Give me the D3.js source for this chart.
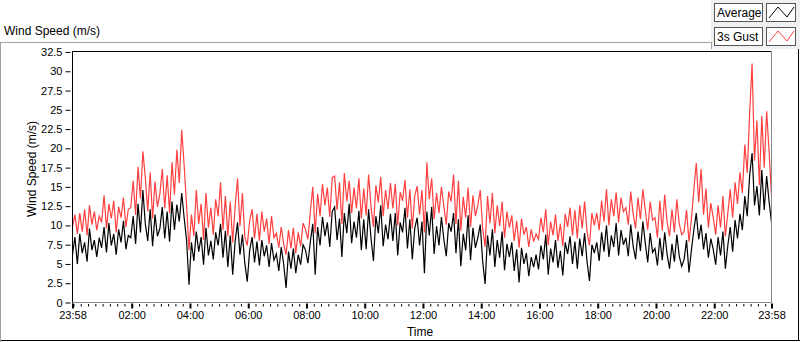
<!DOCTYPE html>
<html>
<head>
<meta charset="utf-8">
<script src="https://cdn.jsdelivr.net/npm/d3@7"></script>
<style>
  body { margin: 0; background: #fff; }
  text { font-family: "Liberation Sans", Arial, sans-serif; fill: #000; }
</style>
</head>
<body>
<div id="chart"></div>
<script>
// samples every 5 minutes, starting 23:58 the day before
var sampleMinutes = 5;
var xTickLabels = ["23:58", "02:00", "04:00", "06:00", "08:00", "10:00", "12:00",
                   "14:00", "16:00", "18:00", "20:00", "22:00", "23:58"];
var yTicks = [0, 2.5, 5, 7.5, 10, 12.5, 15, 17.5, 20, 22.5, 25, 27.5, 30, 32.5];
var seriesNames = ["Average", "3s Gust"];

var average = [
  6.2, 8.5, 5.0, 8.9, 6.4, 7.8, 5.3, 9.6, 6.8, 8.1, 5.9, 8.4,      // 23:58
  7.1, 9.8, 6.5, 10.3, 7.4, 8.9, 6.2, 9.5, 7.8, 10.6, 6.9, 8.7,    // 00:58
  8.4, 11.2, 7.6, 12.8, 9.1, 14.6, 10.2, 8.0, 12.1, 7.3, 11.4, 8.6, // 01:58
  9.6, 12.4, 8.3, 11.8, 7.9, 13.1, 9.4, 12.7, 10.5, 14.2, 11.0, 8.1, // 02:58
  2.3, 7.8, 5.4, 9.2, 6.6, 8.5, 4.9, 9.7, 6.1, 8.0, 5.6, 9.1,      // 03:58
  7.4, 10.2, 5.8, 9.3, 4.6, 8.7, 3.6, 7.9, 10.4, 6.2, 8.8, 5.1,    // 04:58
  2.7, 6.8, 8.5, 5.2, 7.9, 4.8, 8.1, 6.0, 7.4, 4.6, 7.7, 5.5,      // 05:58
  6.3, 4.1, 7.2, 5.0, 1.9, 6.6, 4.4, 7.0, 3.8, 6.2, 4.9, 7.5,      // 06:58
  6.8, 5.1, 7.9, 10.2, 3.6, 9.8, 7.4, 11.1, 8.6, 10.4, 7.2, 11.8,  // 07:58
  12.4, 8.1, 10.9, 5.9, 11.6, 9.0, 12.8, 7.7, 10.5, 8.4, 11.9, 6.8, // 08:58
  10.8, 6.9, 12.1, 8.3, 5.4, 11.2, 9.0, 12.6, 7.3, 10.1, 8.2, 11.5, // 09:58
  8.0, 11.6, 6.1, 10.4, 9.1, 12.3, 7.0, 10.8, 5.6, 9.6, 11.0, 7.4,  // 10:58
  10.5, 3.8, 11.8, 8.7, 12.4, 6.3, 9.9, 7.4, 11.1, 8.2, 6.0, 10.3,  // 11:58
  9.2, 11.6, 6.4, 10.8, 4.7, 8.9, 6.8, 11.3, 5.5, 9.7, 7.1, 8.4,    // 12:58
  10.1, 5.3, 2.4, 8.7, 6.1, 9.5, 4.6, 8.1, 5.8, 9.2, 4.2, 7.6,      // 13:58
  5.9, 7.8, 4.1, 6.9, 2.6, 7.1, 5.0, 6.4, 3.4, 5.9, 4.6, 6.2,       // 14:58
  4.3, 7.4, 5.6, 8.8, 3.6, 7.0, 5.2, 8.1, 4.5, 6.7, 3.5, 7.8,       // 15:58
  6.3, 8.6, 5.0, 7.9, 4.4, 8.3, 6.0, 9.0, 5.3, 2.8, 7.5, 6.4,       // 16:58
  7.8, 5.4, 9.1, 6.6, 10.0, 5.9, 8.7, 7.2, 10.3, 6.1, 9.4, 7.5,     // 17:58
  8.4, 6.0, 10.1, 7.3, 5.6, 9.2, 6.7, 10.5, 7.7, 5.2, 9.0, 6.5,     // 18:58
  7.0, 4.8, 8.4, 5.5, 9.1, 6.2, 4.4, 7.6, 5.3, 8.8, 6.0, 4.7,       // 19:58
  5.6, 8.1, 3.9, 6.8, 9.4, 11.6, 8.2, 10.1, 6.9, 9.0, 5.8, 8.3,     // 20:58
  6.9, 4.9, 8.5, 6.1, 9.2, 4.4, 7.4, 9.8, 6.6, 10.7, 8.3, 11.5,     // 21:58
  9.4, 13.8, 11.2, 16.5, 19.4, 12.6, 15.1, 11.3, 17.2, 12.0, 16.4, 13.1, // 22:58
  10.4                                                             // 23:58
];

var gust = [
  9.8, 11.4, 8.9, 11.6, 9.2, 12.1, 8.7, 12.6, 10.1, 11.8, 9.4, 11.2,
  10.4, 13.9, 9.6, 12.8, 10.9, 13.2, 9.1, 12.4, 11.0, 13.6, 9.8, 12.1,
  12.3, 15.8, 11.4, 17.6, 13.5, 19.6, 16.2, 11.8, 16.9, 10.9, 15.7, 12.4,
  14.1, 17.3, 12.2, 16.5, 11.6, 18.2, 14.0, 19.8, 15.5, 22.4, 17.8, 12.6,
  6.8, 11.4, 8.6, 14.6, 10.2, 12.8, 8.1, 14.2, 9.7, 12.3, 8.8, 13.4,
  11.2, 15.6, 9.4, 13.8, 8.6, 13.1, 7.8, 12.4, 16.1, 9.9, 14.2, 8.5,
  7.4, 10.6, 12.1, 8.3, 11.5, 8.0, 11.8, 9.2, 10.9, 7.6, 11.2, 8.4,
  9.0, 7.1, 9.8, 7.6, 6.2, 9.4, 7.0, 9.7, 6.4, 9.1, 7.3, 10.3,
  9.5, 8.2, 11.8, 15.0, 9.0, 14.1, 11.2, 15.4, 12.6, 14.9, 11.1, 16.2,
  16.4, 12.0, 15.6, 10.2, 16.8, 13.1, 15.8, 11.6, 14.9, 12.2, 16.1, 10.9,
  14.8, 11.3, 16.6, 12.4, 9.8, 15.2, 13.0, 16.3, 11.2, 14.6, 12.1, 15.5,
  12.2, 15.4, 10.0, 14.3, 13.2, 15.9, 11.0, 14.7, 9.6, 13.8, 15.1, 11.4,
  14.6, 9.1, 18.2, 13.4, 16.1, 10.8, 14.2, 11.6, 15.0, 12.5, 10.1, 14.4,
  13.1, 16.6, 10.2, 15.8, 9.3, 13.7, 11.0, 14.9, 9.8, 13.9, 11.2, 12.6,
  14.6, 9.6, 7.2, 13.8, 10.3, 14.2, 9.0, 12.6, 9.9, 13.1, 8.4, 11.8,
  9.7, 11.3, 8.0, 10.6, 7.1, 10.9, 8.8, 9.8, 7.2, 9.5, 7.9, 8.9,
  8.2, 11.0, 9.1, 12.1, 7.4, 10.5, 8.7, 11.4, 8.0, 10.2, 7.3, 11.5,
  9.8, 12.3, 8.7, 12.0, 8.3, 12.6, 9.6, 13.1, 9.2, 7.4, 11.6, 10.0,
  11.6, 9.4, 13.2, 10.5, 14.7, 10.0, 13.4, 11.2, 14.3, 10.4, 13.6, 11.8,
  12.3, 10.1, 14.4, 11.5, 9.6, 13.6, 10.8, 14.7, 12.0, 9.4, 13.1, 10.7,
  11.0, 8.4, 13.2, 9.3, 14.0, 10.4, 8.6, 12.1, 9.1, 13.4, 10.2, 8.8,
  9.2, 12.0, 7.9, 10.8, 14.6, 18.1, 13.0, 17.3, 11.4, 14.8, 9.7, 12.9,
  11.0, 8.8, 12.6, 9.7, 13.8, 8.6, 11.6, 14.7, 11.0, 15.6, 12.8, 16.9,
  14.2, 20.5, 16.8, 24.6, 31.0, 18.4, 23.6, 15.2, 24.2, 17.5, 24.8, 19.6,
  13.8
];

var width = 800, height = 342;
var plotLeft = 72.5, plotRight = 771.5, plotTop = 51.5, plotBottom = 302.5;

var start = new Date(2024, 0, 1, 23, 58);
var end = new Date(start.getTime() + 24 * 60 * 60000);
var majorTicks = xTickLabels.map(function (d, i) {
    if (i === 0) return start;
    if (i === xTickLabels.length - 1) return end;
    var p = d.split(":");
    return new Date(2024, 0, 2, +p[0], +p[1]);
});

var svg = d3.select("#chart").append("svg")
    .attr("width", width)
    .attr("height", height);

// outer frame (sunken look)
svg.append("rect").attr("x", 0).attr("y", 42).attr("width", 800).attr("height", 300).attr("fill", "#fff");
svg.append("line").attr("x1", 0).attr("x2", 711).attr("y1", 42.5).attr("y2", 42.5).attr("stroke", "#a0a0a0");
svg.append("line").attr("x1", 0.5).attr("x2", 0.5).attr("y1", 42).attr("y2", 342).attr("stroke", "#a0a0a0");
svg.append("line").attr("x1", 1).attr("x2", 800).attr("y1", 340.5).attr("y2", 340.5).attr("stroke", "#000");
svg.append("line").attr("x1", 798.5).attr("x2", 798.5).attr("y1", 49).attr("y2", 341).attr("stroke", "#000");

// title
svg.append("text")
    .attr("x", 4).attr("y", 35)
    .style("font-size", "12px")
    .text("Wind Speed (m/s)");

var x = d3.scaleTime().domain([start, end]).range([plotLeft, plotRight]);
var y = d3.scaleLinear().domain([0, 32.5]).range([plotBottom, plotTop + 0.5]);

// plot area
svg.append("rect")
    .attr("x", plotLeft).attr("y", plotTop)
    .attr("width", plotRight - plotLeft).attr("height", plotBottom - plotTop)
    .attr("fill", "#fff");

svg.append("clipPath").attr("id", "clip")
    .append("rect")
    .attr("x", plotLeft).attr("y", plotTop)
    .attr("width", plotRight - plotLeft).attr("height", plotBottom - plotTop);

var line = d3.line()
    .x(function (d, i) { return x(new Date(start.getTime() + i * sampleMinutes * 60000)); })
    .y(function (d) { return y(d); });

var plot = svg.append("g").attr("clip-path", "url(#clip)");
plot.append("path").datum(gust)
    .attr("d", line).attr("fill", "none")
    .attr("stroke", "#ff4040").attr("stroke-width", 1.2);
plot.append("path").datum(average)
    .attr("d", line).attr("fill", "none")
    .attr("stroke", "#000").attr("stroke-width", 1.2);

// plot border: dark top/left, grey right/bottom
svg.append("line").attr("x1", plotLeft).attr("x2", plotRight).attr("y1", plotTop).attr("y2", plotTop).attr("stroke", "#000");
svg.append("line").attr("x1", plotRight).attr("x2", plotRight).attr("y1", plotTop).attr("y2", plotBottom).attr("stroke", "#888");

// y axis
var yAxis = svg.append("g")
    .attr("transform", "translate(" + plotLeft + ",0)")
    .call(d3.axisLeft(y).tickValues(yTicks).tickSize(7).tickPadding(3)
        .tickFormat(function (d) { return String(d); }));
yAxis.select(".domain").attr("stroke", "#000").attr("d", "M0," + plotTop + "V" + (plotBottom + 1));
yAxis.selectAll(".tick line").attr("x2", -7).attr("x1", -2);
yAxis.selectAll("text").style("font-size", "11px").attr("fill", "#000");

// x axis: minor ticks every 15 min, major ticks with labels
var xMinor = svg.append("g")
    .attr("transform", "translate(0," + plotBottom + ")")
    .call(d3.axisBottom(x).ticks(d3.timeMinute.every(15)).tickSize(4).tickFormat(""));
xMinor.select(".domain").attr("stroke", "#888").attr("d", "M" + plotLeft + ",0H" + plotRight);
xMinor.selectAll(".tick line").attr("y1", 1.5).attr("stroke", "#000");

var xAxis = svg.append("g")
    .attr("transform", "translate(0," + plotBottom + ")")
    .call(d3.axisBottom(x).tickValues(majorTicks).tickSize(6).tickPadding(3)
        .tickFormat(function (d, i) { return xTickLabels[i]; }));
xAxis.select(".domain").remove();
xAxis.selectAll(".tick line").attr("stroke", "#000").attr("stroke-width", 2).attr("y1", 1);
xAxis.selectAll("text").style("font-size", "11px").attr("fill", "#000");

// axis titles
svg.append("text")
    .attr("transform", "translate(36,169) rotate(-90)")
    .attr("text-anchor", "middle")
    .style("font-size", "12px")
    .text("Wind Speed (m/s)");
svg.append("text")
    .attr("x", 420).attr("y", 336)
    .attr("text-anchor", "middle")
    .style("font-size", "12px")
    .text("Time");

// legend panel
var legend = svg.append("g");
legend.append("rect").attr("x", 711).attr("y", 0).attr("width", 89).attr("height", 49).attr("fill", "#f0f0f0");
legend.append("line").attr("x1", 711.5).attr("x2", 711.5).attr("y1", 42).attr("y2", 49).attr("stroke", "#a0a0a0");
var legendColors = ["#000", "#ff4040"];
seriesNames.forEach(function (name, i) {
    var top = 3 + i * 24;
    legend.append("rect")
        .attr("x", 714.5).attr("y", top + 0.5).attr("width", 48).attr("height", 18)
        .attr("fill", "#fff").attr("stroke", "#555");
    legend.append("text")
        .attr("x", 717).attr("y", top + 14)
        .style("font-size", "12px")
        .text(name);
    legend.append("rect")
        .attr("x", 766.5).attr("y", top + 0.5).attr("width", 29).attr("height", 18)
        .attr("fill", "#fff").attr("stroke", "#555");
    legend.append("path")
        .attr("d", "M769," + (top + 15) + "L778," + (top + 4) + "L787," + (top + 14) + "L794," + (top + 4))
        .attr("fill", "none").attr("stroke", legendColors[i]);
});
</script>
</body>
</html>
